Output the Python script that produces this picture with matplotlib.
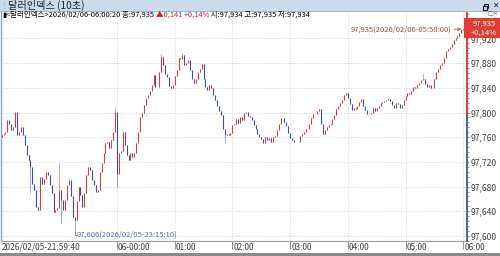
import matplotlib
matplotlib.use("Agg")
import matplotlib.pyplot as plt
import matplotlib.patches as mpatches
from matplotlib import font_manager
from matplotlib.transforms import IdentityTransform
from matplotlib.ticker import MultipleLocator

# 2-minute closes, 22:00 -> 06:00 (minutes from 22:00)
CLOSE = [
    97.764, 97.766, 97.769, 97.788, 97.782, 97.772, 97.777, 97.801, 97.764, 97.769,
    97.777, 97.764, 97.747, 97.731, 97.723, 97.712, 97.685, 97.675, 97.647, 97.642,
    97.696, 97.685, 97.693, 97.704, 97.699, 97.683, 97.669, 97.639, 97.642, 97.645,
    97.675, 97.658, 97.642, 97.658, 97.683, 97.691, 97.664, 97.631, 97.626, 97.656,
    97.680, 97.666, 97.647, 97.669, 97.699, 97.712, 97.707, 97.691, 97.683, 97.672,
    97.675, 97.704, 97.718, 97.734, 97.750, 97.753, 97.742, 97.755, 97.769, 97.801,
    97.701, 97.734, 97.737, 97.769, 97.747, 97.731, 97.723, 97.734, 97.728, 97.734,
    97.750, 97.769, 97.793, 97.799, 97.812, 97.823, 97.828, 97.835, 97.844, 97.861,
    97.842, 97.842, 97.866, 97.890, 97.877, 97.863, 97.857, 97.843, 97.839, 97.844,
    97.859, 97.869, 97.888, 97.886, 97.893, 97.877, 97.880, 97.885, 97.869, 97.854,
    97.848, 97.855, 97.865, 97.870, 97.879, 97.854, 97.841, 97.836, 97.844, 97.839,
    97.828, 97.820, 97.811, 97.803, 97.796, 97.774, 97.764, 97.766, 97.764, 97.767,
    97.779, 97.782, 97.789, 97.783, 97.793, 97.788, 97.800, 97.801, 97.794, 97.793,
    97.788, 97.780, 97.773, 97.765, 97.760, 97.757, 97.751, 97.760, 97.755, 97.758,
    97.753, 97.760, 97.762, 97.772, 97.782, 97.791, 97.791, 97.785, 97.778, 97.767,
    97.758, 97.755, 97.753, 97.752, 97.753, 97.762, 97.766, 97.769, 97.774, 97.774,
    97.781, 97.791, 97.798, 97.797, 97.802, 97.805, 97.782, 97.766, 97.771, 97.777,
    97.780, 97.782, 97.789, 97.796, 97.806, 97.811, 97.815, 97.820, 97.828, 97.832,
    97.824, 97.814, 97.804, 97.807, 97.805, 97.811, 97.817, 97.822, 97.811, 97.804,
    97.797, 97.798, 97.799, 97.807, 97.803, 97.807, 97.810, 97.815, 97.817, 97.819,
    97.820, 97.822, 97.818, 97.812, 97.807, 97.816, 97.814, 97.807, 97.812, 97.821,
    97.827, 97.832, 97.830, 97.835, 97.841, 97.840, 97.844, 97.848, 97.853, 97.855,
    97.846, 97.842, 97.844, 97.839, 97.840, 97.854, 97.866, 97.871, 97.877, 97.880,
    97.889, 97.899, 97.903, 97.906, 97.911, 97.917, 97.921, 97.924, 97.929, 97.933,
    97.935,
]
FIRST_OPEN = 97.760
STEP_MIN = 2
WICK_HIGH = {30: 97.718, 59: 97.809, 83: 97.895, 94: 97.897, 219: 97.863, 239: 97.935}
WICK_LOW = {15: 97.669, 31: 97.621, 38: 97.606, 60: 97.680, 116: 97.750}
BASE = 97.794

LOW_IDX, LOW_VAL, LOW_TXT = 38, 97.606, "97,606(2026/02/05-23:15:10)"
HIGH_IDX, HIGH_VAL, HIGH_TXT = 239, 97.935, "97,935(2026/02/06-05:58:00)"

XTICKS = [120, 180, 240, 300, 360, 420, 480]
XLABELS = ["06-00:00", "01:00", "02:00", "03:00", "04:00", "05:00", "06:00"]
START_LABEL = "2026/02/05-21:59:40"
YTICKS = [97.600, 97.640, 97.680, 97.720, 97.760, 97.800, 97.840, 97.880, 97.920]

UP = "#c8302c"
DN = "#2c3f8c"
RED = "#d9302a"
BLUE = "#3a5a9a"
GRID = "#c8c8c8"

names = {f.name for f in font_manager.fontManager.ttflist}
FAM = ["Liberation Sans Narrow"] if "Liberation Sans Narrow" in names else []
FAM += ["Noto Sans CJK KR", "Noto Sans CJK JP", "DejaVu Sans"]
plt.rcParams["font.family"] = FAM


def fmt(v):
    return f"{v:.3f}".replace(".", ",")


fig = plt.figure(figsize=(5.0, 2.56), dpi=100)
fig.patch.set_facecolor("white")

# chart area: x 1..467 px, y 11..241 px (from top)
ax = fig.add_axes([1 / 500, 15 / 256, 466 / 500, 230 / 256])
ax.set_xlim(-0.62, 483.9)
ax.set_ylim(97.5919, 97.9644)
ax.set_facecolor("white")

for t in XTICKS:
    ax.axvline(t, color=GRID, lw=0.6, ls=(0, (1, 2)), zorder=0)
for v in YTICKS:
    ax.axhline(v, color=GRID, lw=0.6, ls=(0, (1, 2)), zorder=0)

# candles
opens = [FIRST_OPEN] + CLOSE[:-1]
for i, (o, c) in enumerate(zip(opens, CLOSE)):
    t = i * STEP_MIN
    col = UP if c >= o else DN
    hi = max(o, c, WICK_HIGH.get(i, 0))
    lo = min(o, c, WICK_LOW.get(i, 1e9))
    ax.vlines(t, lo, hi, color=col, lw=0.4, alpha=0.8, zorder=2)
    ax.vlines(t, min(o, c), max(o, c), color=col, lw=0.8, alpha=0.85, zorder=3)

# low / high annotations
tl = LOW_IDX * STEP_MIN
ax.plot([tl, tl, tl + 2], [LOW_VAL, 97.6016, 97.6016], color="#5570a8", lw=0.6)
ax.text(tl + 2.2, 97.6016, LOW_TXT, color="#5570a8", fontsize=5.5, va="center", ha="left")
th = HIGH_IDX * STEP_MIN
ax.annotate(HIGH_TXT, xy=(th, HIGH_VAL), xytext=(-7, 0), textcoords="offset points",
            ha="right", va="center", fontsize=5.5, color="#b8403a",
            arrowprops=dict(arrowstyle="->", color="#b8403a", lw=0.6,
                            shrinkA=0, shrinkB=0, mutation_scale=5))

# spines
for s in ["top", "right"]:
    ax.spines[s].set_visible(False)
ax.spines["left"].set_color("#8aa0c8")
ax.spines["left"].set_linewidth(1.0)
ax.spines["bottom"].set_color("#a0a0a0")
ax.spines["bottom"].set_linewidth(0.8)

# right axis: red above base, blue below
ax.plot([1, 1], [BASE, 97.9644], transform=ax.get_yaxis_transform(), color=RED, lw=1.3,
        clip_on=False, zorder=5)
ax.plot([1, 1], [97.5919, BASE], transform=ax.get_yaxis_transform(), color=BLUE, lw=1.3,
        clip_on=False, zorder=5)

ax.yaxis.tick_right()
ax.set_yticks(YTICKS)
ax.set_yticklabels([fmt(v) for v in YTICKS])
ax.yaxis.set_minor_locator(MultipleLocator(0.008))
ax.tick_params(axis="y", which="major", length=1.6, width=0.6, color="#707070", pad=0.8,
               labelsize=6.2, labelcolor="#404040")
ax.tick_params(axis="y", which="minor", length=1.2, width=0.5, color="#707070")

ax.set_xticks(XTICKS)
ax.set_xticklabels([])
ax.tick_params(axis="x", length=5.5, width=0.6, color="#808080", direction="out")
for t, lab in zip(XTICKS, XLABELS):
    ax.annotate(lab, xy=(t, 0), xycoords=("data", "axes fraction"), xytext=(0.8, -1.2),
                textcoords="offset points", ha="left", va="top", fontsize=6, color="#404040")
ax.annotate(START_LABEL, xy=(-0.33, 0), xycoords=("data", "axes fraction"), xytext=(0.5, -1.2),
            textcoords="offset points", ha="left", va="top", fontsize=6, color="#404040")

# price box on the right axis
fig.patches.append(mpatches.Rectangle((464, 256 - 38), 36, 20, transform=IdentityTransform(),
                                      facecolor="#e03c31", edgecolor="none", zorder=6))
fig.text(484, 256 - 23.2, fmt(CLOSE[-1]), transform=IdentityTransform(), color="white",
         fontsize=5.5, ha="center", va="center", zorder=7)
fig.text(484, 256 - 33, "+0,14%", transform=IdentityTransform(), color="white",
         fontsize=5.5, ha="center", va="center", zorder=7)
fig.text(487, 256 - 14, "□×", transform=IdentityTransform(), color="#606060",
         fontsize=4.5, ha="left", va="center", family=["DejaVu Sans"])

# title bar
fig.patches.append(mpatches.Rectangle((0, 245), 500, 11, transform=IdentityTransform(),
                                      facecolor="#cadcec", edgecolor="none"))
fig.patches.append(mpatches.Rectangle((0, 244.5), 500, 0.8, transform=IdentityTransform(),
                                      facecolor="#9fb6cf", edgecolor="none"))
fig.text(0.5, 250.5, "⋮", transform=IdentityTransform(), color="#7088a8", fontsize=5,
         ha="left", va="center", family=["DejaVu Sans"])
fig.text(8, 250.5, "달러인덱스 (10초)", transform=IdentityTransform(), color="#202020",
         fontsize=7.3, ha="left", va="center")
fig.patches.append(mpatches.Rectangle((484, 248), 4, 4, transform=IdentityTransform(),
                                      facecolor="none", edgecolor="#202020", lw=0.8))
fig.patches.append(mpatches.Rectangle((482.5, 246.5), 4, 4, transform=IdentityTransform(),
                                      facecolor="#cadcec", edgecolor="#202020", lw=0.8))
fig.text(495, 250.5, "✕", transform=IdentityTransform(), color="#202020", fontsize=5.5,
         ha="center", va="center", family=["DejaVu Sans"], weight="bold")

# info line
fig.canvas.draw()
r = fig.canvas.get_renderer()
x = 2
parts = [("▮", "#000000"), ("<달러인덱스>2026/02/06-06:00:20 종:97,935 ", "#000000"),
         ("▲0,141 +0,14%", "#d02020"), (" 시:97,934 고:97,935 저:97,934", "#000000")]
for s, c in parts:
    tx = fig.text(x, 256 - 15, s, transform=IdentityTransform(), color=c, fontsize=5.4,
                  ha="left", va="center")
    x = tx.get_window_extent(r).x1

# bottom strip
fig.patches.append(mpatches.Rectangle((0, 0), 500, 3, transform=IdentityTransform(),
                                      facecolor="#8a8a8a", edgecolor="none"))

fig.savefig("out.png", dpi=100)
